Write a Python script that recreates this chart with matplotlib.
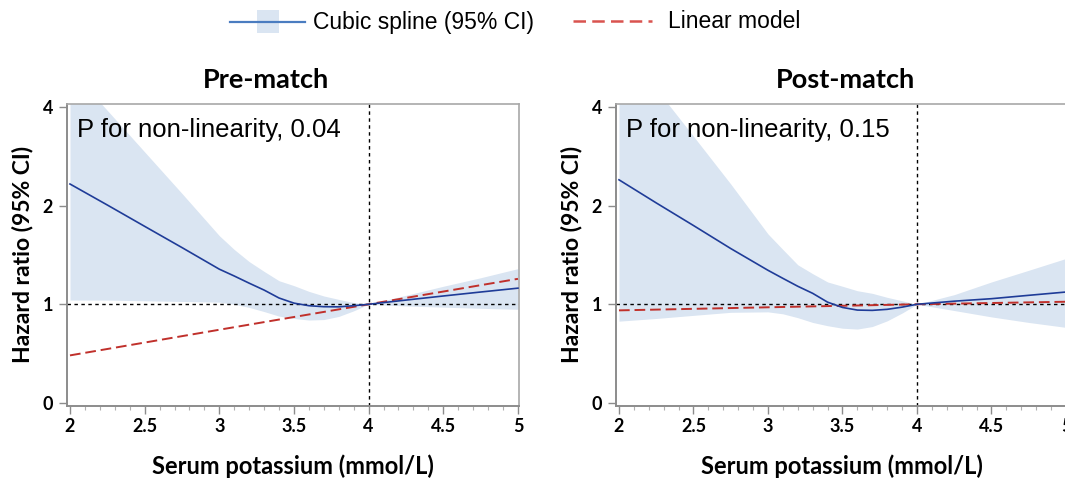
import matplotlib
matplotlib.use('Agg')
import matplotlib.pyplot as plt
from matplotlib.patches import Rectangle
from matplotlib.ticker import MultipleLocator, NullLocator

# hazard ratios (log2 axis)
x_grid = [2.0, 2.25, 2.5, 2.75, 3.0, 3.1, 3.2, 3.3, 3.4, 3.5,
          3.6, 3.7, 3.8, 3.9, 4.0, 4.25, 4.5, 4.75, 5.0]

pre_spline = [2.33, 2.01, 1.73, 1.49, 1.28, 1.22, 1.16, 1.105, 1.045, 1.008,
              0.99, 0.983, 0.982, 0.99, 1.0, 1.03, 1.06, 1.09, 1.12]
pre_upper = [5.23, 3.91, 2.92, 2.18, 1.62, 1.47, 1.35, 1.26, 1.18, 1.14,
             1.095, 1.06, 1.035, 1.012, 1.0, 1.065, 1.135, 1.205, 1.285]
pre_lower = [1.03, 1.03, 1.025, 1.02, 1.015, 1.0, 0.978, 0.95, 0.92, 0.905,
             0.895, 0.898, 0.918, 0.955, 1.0, 0.988, 0.98, 0.972, 0.965]

post_spline = [2.40, 2.04, 1.74, 1.48, 1.27, 1.20, 1.135, 1.08, 1.015, 0.978,
               0.96, 0.958, 0.965, 0.98, 1.0, 1.022, 1.04, 1.065, 1.09]
post_upper = [6.4, 4.55, 3.26, 2.33, 1.64, 1.47, 1.32, 1.24, 1.17, 1.135,
              1.10, 1.08, 1.05, 1.025, 1.0, 1.07, 1.17, 1.27, 1.38]
post_lower = [0.888, 0.905, 0.925, 0.945, 0.948, 0.935, 0.91, 0.88, 0.86, 0.845,
              0.84, 0.855, 0.89, 0.94, 1.0, 0.957, 0.915, 0.88, 0.85]

lin_x = [2, 3, 4, 5]
pre_linear = [0.698, 0.836, 1.0, 1.196]
post_linear = [0.958, 0.979, 1.0, 1.018]

titles = ['Pre-match', 'Post-match']
p_texts = ['P for non-linearity, 0.04', 'P for non-linearity, 0.15']
xticks = [2, 2.5, 3, 3.5, 4, 4.5, 5]
xtick_labels = ['2', '2.5', '3', '3.5', '4', '4.5', '5']
yticks = [0.5, 1, 2, 4]
ytick_labels = ['0', '1', '2', '4']

W, H = 1065, 478
band_col = '#dae5f2'
line_col = '#1f3c98'
red_col = '#c0302b'
bold = dict(family='Lato', weight='bold')

fig = plt.figure(figsize=(W / 100, H / 100), dpi=100)

panels = [(67, 452, pre_spline, pre_upper, pre_lower, pre_linear, 266),
          (616, 451, post_spline, post_upper, post_lower, post_linear, 845)]

for i, (left, width, spl, up, lo, lin, tx) in enumerate(panels):
    ax = fig.add_axes([left / W, 1 - 405.7 / H, width / W, 301.7 / H])
    ax.fill_between(x_grid, lo, up, color=band_col, lw=0, zorder=1)
    ax.axhline(1, color='black', lw=1.0, dashes=(2.5, 2.5), zorder=2)
    ax.axvline(4, color='black', lw=1.0, dashes=(2.5, 2.5), zorder=2)
    ax.plot(lin_x, lin, color=red_col, lw=1.4, dashes=(5.5, 2.5), zorder=3)
    ax.plot(x_grid, spl, color=line_col, lw=1.2, zorder=4)

    ax.set_yscale('log', base=2)
    ax.set_ylim(0.49, 4.09)
    ax.set_yticks(yticks)
    ax.set_yticklabels(ytick_labels)
    ax.yaxis.set_minor_locator(NullLocator())
    ax.set_xlim(1.98, 5.007)
    ax.set_xticks(xticks)
    ax.set_xticklabels(xtick_labels)
    ax.xaxis.set_minor_locator(MultipleLocator(0.1))

    for lab in ax.get_xticklabels() + ax.get_yticklabels():
        lab.set_fontfamily('Lato')
        lab.set_fontweight('bold')
        lab.set_fontsize(13)
    ax.tick_params(which='major', direction='out', length=6, width=1,
                   color='#8c8c8c')
    ax.tick_params(axis='x', which='major', pad=3)
    ax.tick_params(axis='y', which='major', pad=4)
    ax.tick_params(which='minor', direction='out', length=3, width=0.8,
                   color='#b0b0b0')
    for s in ['left', 'bottom']:
        ax.spines[s].set_color('#8c8c8c')
        ax.spines[s].set_linewidth(1.4)
    for s in ['top', 'right']:
        ax.spines[s].set_color('#a8a8a8')
        ax.spines[s].set_linewidth(1.2)

    ax.set_xlabel('Serum potassium (mmol/L)', fontsize=17, **bold)
    ax.xaxis.set_label_coords(0.5, -0.16)
    ax.set_ylabel('Hazard ratio (95% CI)', fontsize=16.5, **bold)
    ax.yaxis.set_label_coords(-0.075, 0.5)

    ax.text(0.023, 0.892, p_texts[i], transform=ax.transAxes,
            fontsize=18.5, family='Liberation Sans', va='baseline', ha='left')
    fig.text(tx / W, 1 - 88 / H, titles[i], ha='center', va='baseline',
             fontsize=19.5, **bold)

# legend drawn in pixel space
leg = fig.add_axes([0, 0, 1, 1], zorder=-1)
leg.set_xlim(0, W)
leg.set_ylim(H, 0)
leg.axis('off')
leg.add_patch(Rectangle((257, 10), 22, 23, color=band_col, lw=0))
leg.plot([230, 305], [22, 22], color='#4a7cc0', lw=1.6)
leg.text(313, 22, 'Cubic spline (95% CI)', va='center', ha='left',
         fontsize=16.5, family='Liberation Sans')
leg.plot([573, 652], [21, 21], color='#d9534f', lw=1.8, dashes=(5, 2.5))
leg.text(668, 21, 'Linear model', va='center', ha='left',
         fontsize=16.5, family='Liberation Sans')

fig.savefig('out.png', dpi=100)
